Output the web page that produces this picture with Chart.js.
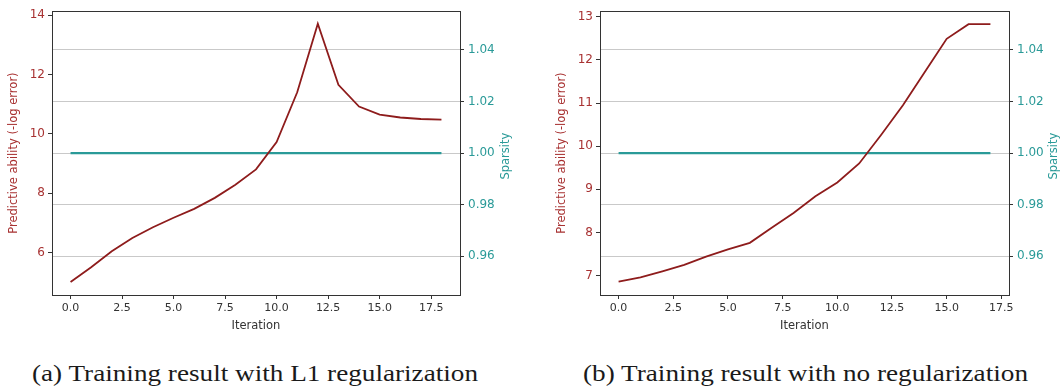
<!DOCTYPE html>
<html>
<head>
<meta charset="utf-8">
<script src="https://cdn.jsdelivr.net/npm/chart.js@4.4.0/dist/chart.umd.min.js"></script>
<style>
  html, body { margin: 0; padding: 0; background: #fff; width: 1063px; height: 389px; overflow: hidden; }
  .box { position: absolute; }
  .cap { position: absolute; font-family: 'Liberation Serif', 'Times New Roman', serif; font-size: 24px; line-height: 27px; color: #1a1a1a; white-space: nowrap; transform-origin: 0 0; }
</style>
</head>
<body>
<div class="box" style="left:7px;top:0;width:506px;height:333px"><canvas id="c1"></canvas></div>
<div class="box" style="left:555px;top:0;width:506px;height:333px"><canvas id="c2"></canvas></div>
<div class="cap" id="capA" style="left:32px;top:360px">(a) Training result with L1 regularization</div>
<div class="cap" id="capB" style="left:583px;top:360px">(b) Training result with no regularization</div>
<script>
// ---- data (a): L1 regularization ----
const iterA = [0,1,2,3,4,5,6,7,8,9,10,11,12,13,14,15,16,17,18];
const predA = [5.0,5.5,6.04,6.49,6.85,7.17,7.47,7.84,8.28,8.8,9.72,11.4,13.71,11.65,10.92,10.65,10.55,10.5,10.48];
const sparA = [1,1,1,1,1,1,1,1,1,1,1,1,1,1,1,1,1,1,1];
// ---- data (b): no regularization ----
const iterB = [0,1,2,3,4,5,6,7,8,9,10,11,12,13,14,15,16,17];
const predB = [6.86,6.96,7.1,7.25,7.44,7.61,7.76,8.11,8.45,8.84,9.16,9.6,10.26,10.95,11.72,12.49,12.83,12.83];
const sparB = [1,1,1,1,1,1,1,1,1,1,1,1,1,1,1,1,1,1];
// ---- tick labels ----
const xTicksA = [0,2.5,5,7.5,10,12.5,15,17.5];
const xTicksB = [0,2.5,5,7.5,10,12.5,15,17.5];
const yTicksA = [6,8,10,12,14];
const yTicksB = [7,8,9,10,11,12,13];
const sparTicks = [0.96,0.98,1.00,1.02,1.04];
const xTitle = 'Iteration';
const yTitle = 'Predictive ability (-log error)';
const y2Title = 'Sparsity';

const RED = '#8e1c1c';
const RED_T = '#a83232';
const TEAL = '#2a9a98';
const FX = {family: 'DejaVu Sans', size: 11};
const FY = {family: 'DejaVu Sans', size: 12};
const FT = {family: 'DejaVu Sans', size: 11.5};

const frame = {
  id: 'frame',
  afterDraw(chart) {
    const {ctx, chartArea: a} = chart;
    ctx.save();
    ctx.strokeStyle = '#333';
    ctx.lineWidth = 1;
    ctx.strokeRect(Math.round(a.left) + 0.5, Math.round(a.top) + 0.5, Math.round(a.right - a.left), Math.round(a.bottom - a.top));
    // right axis title, reading bottom-to-top like the reference
    const s = chart.scales.y2;
    ctx.translate(s.right - 7, (a.top + a.bottom) / 2 + 3);
    ctx.rotate(-Math.PI / 2);
    ctx.font = FT.size + 'px "' + FT.family + '"';
    ctx.fillStyle = TEAL;
    ctx.textAlign = 'center';
    ctx.textBaseline = 'middle';
    ctx.fillText(y2Title, 0, 0);
    ctx.restore();
  }
};

function fmt(v, d) { return Number(v).toFixed(d); }

function make(id, iter, pred, spar, xTicks, yTicks, xr, yr, leftW, rightW) {
  const ptsP = iter.map((x, i) => ({x, y: pred[i]}));
  const ptsS = iter.map((x, i) => ({x, y: spar[i]}));
  new Chart(document.getElementById(id), {
    type: 'line',
    data: {
      datasets: [
        {data: ptsP, yAxisID: 'y', borderColor: RED, borderWidth: 1.8, pointRadius: 0, tension: 0, fill: false},
        {data: ptsS, yAxisID: 'y2', borderColor: TEAL, borderWidth: 2.2, pointRadius: 0, tension: 0, fill: false}
      ]
    },
    options: {
      responsive: true,
      maintainAspectRatio: false,
      animation: false,
      events: [],
      layout: {padding: {top: 11, left: 0, right: 0, bottom: 0}},
      plugins: {legend: {display: false}, tooltip: {enabled: false}},
      scales: {
        x: {
          type: 'linear', position: 'bottom', min: xr[0], max: xr[1],
          afterBuildTicks: s => { s.ticks = xTicks.map(v => ({value: v})); },
          afterFit: s => { s.height = 38; },
          ticks: {font: FX, color: '#333', padding: 3, maxRotation: 0, autoSkip: false, callback: v => fmt(v, 1)},
          grid: {drawOnChartArea: false, tickLength: 4, tickColor: '#333', color: '#333'},
          border: {color: '#333', width: 1},
          title: {display: true, text: xTitle, font: FT, color: '#333', padding: 0}
        },
        y: {
          type: 'linear', position: 'left', min: yr[0], max: yr[1],
          afterBuildTicks: s => { s.ticks = yTicks.map(v => ({value: v})); },
          afterFit: s => { s.width = leftW; },
          ticks: {font: FY, color: RED_T, padding: 3, autoSkip: false, callback: v => String(v)},
          grid: {drawOnChartArea: false, tickLength: 4, tickColor: '#333'},
          border: {color: '#333', width: 1},
          title: {display: true, text: yTitle, font: FT, color: RED_T, padding: 0}
        },
        y2: {
          type: 'linear', position: 'right', min: 0.945, max: 1.055,
          afterBuildTicks: s => { s.ticks = sparTicks.map(v => ({value: v})); },
          afterFit: s => { s.width = rightW; },
          ticks: {font: FY, color: TEAL, padding: 4, autoSkip: false, callback: v => fmt(v, 2)},
          grid: {drawOnChartArea: true, color: '#c9c9c9', lineWidth: 1, tickLength: 4, tickColor: '#333'},
          border: {color: '#333', width: 1},
          title: {display: false}
        }
      }
    },
    plugins: [frame]
  });
}

make('c1', iterA, predA, sparA, xTicksA, yTicksA, [-0.9, 18.9], [4.565, 14.135], 45, 53);
make('c2', iterB, predB, sparB, xTicksB, yTicksB, [-0.85, 17.85], [6.55, 13.13], 45, 52);

function fit(id, w) {
  const el = document.getElementById(id);
  const r = el.getBoundingClientRect();
  el.style.transform = 'scaleX(' + (w / r.width) + ')';
}
fit('capA', 446);
fit('capB', 445);
</script>
</body>
</html>
